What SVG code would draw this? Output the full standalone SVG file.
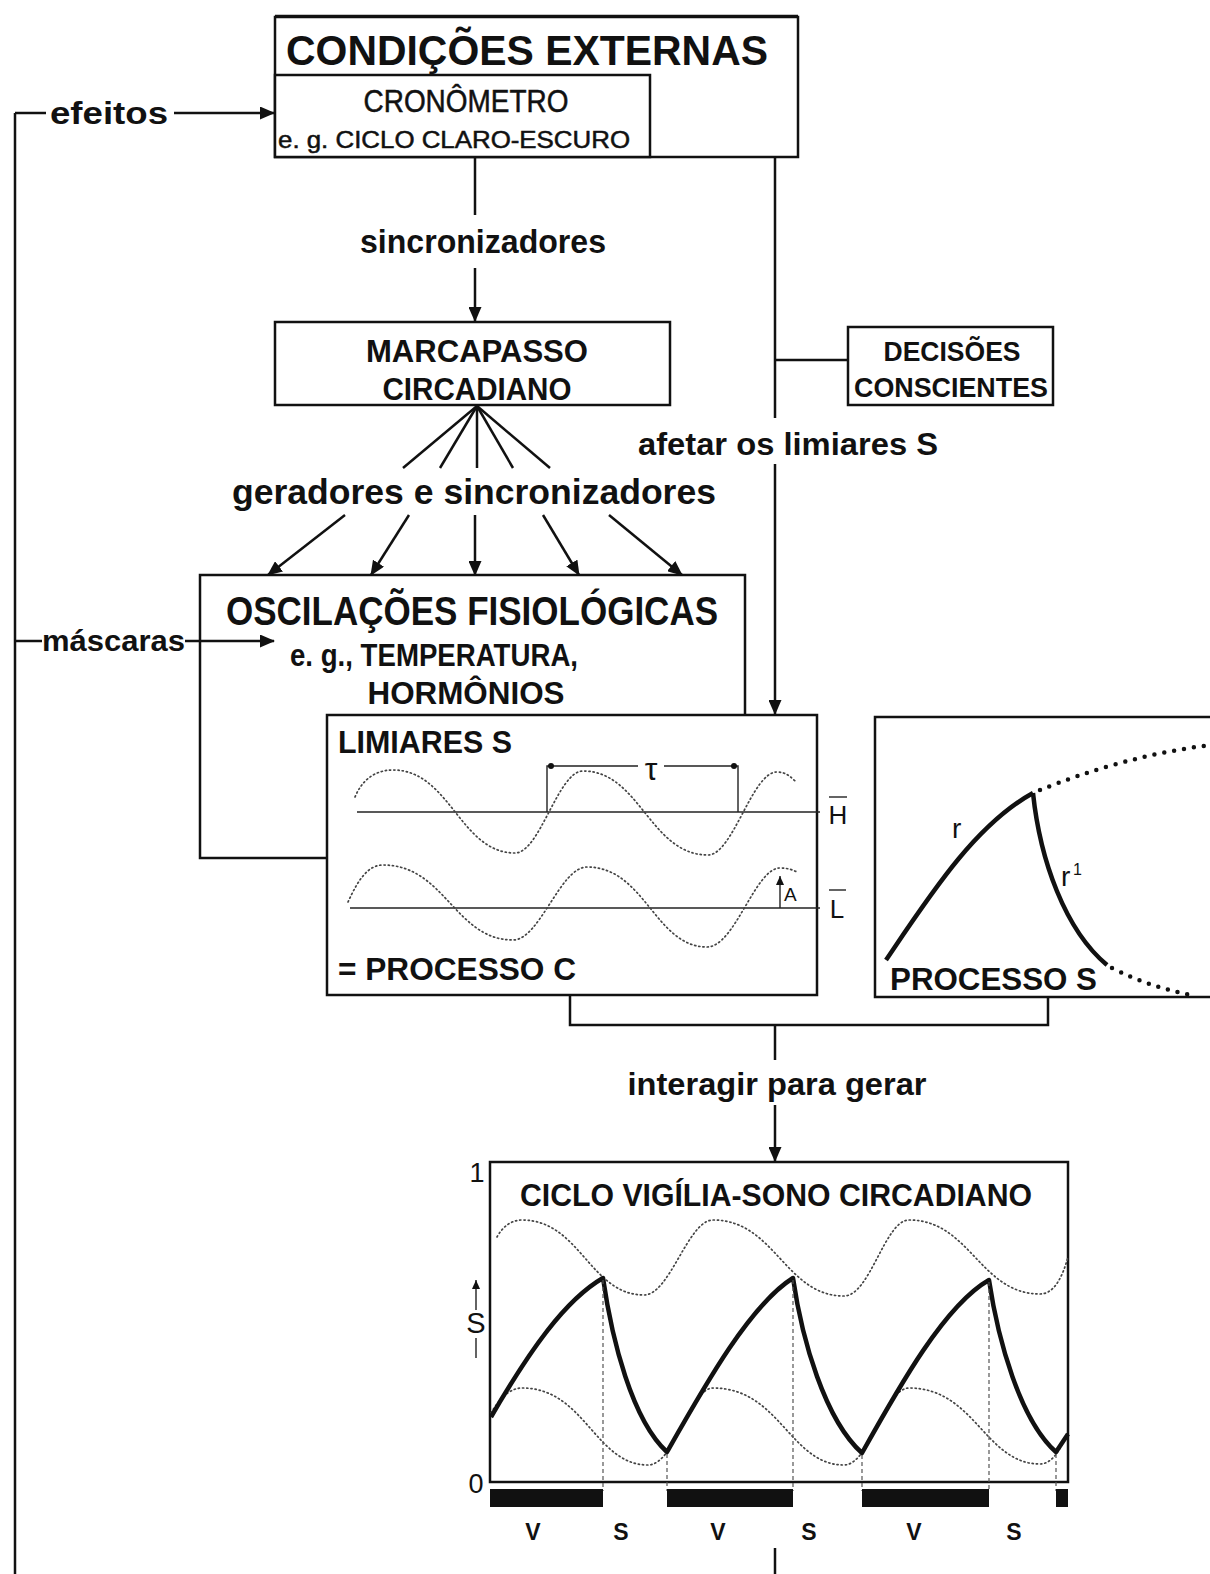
<svg xmlns="http://www.w3.org/2000/svg" width="1210" height="1574" viewBox="0 0 1210 1574">
<style>
text{font-family:"Liberation Sans",Arial,sans-serif;fill:#111}
.b{font-weight:bold}
.m{stroke:#111;stroke-width:0.5}
.box{fill:#fff;stroke:#111;stroke-width:2.5}
.ln{fill:none;stroke:#111;stroke-width:2.5}
.thin{fill:none;stroke:#222;stroke-width:1.4}
.dot{fill:none;stroke:#444;stroke-width:1.7;stroke-dasharray:1.2 3;stroke-linecap:round}
.bigdot{fill:none;stroke:#111;stroke-width:4.5;stroke-dasharray:0 10;stroke-linecap:round}
.thick{fill:none;stroke:#111;stroke-width:4.5;stroke-linejoin:round}
.vd{fill:none;stroke:#555;stroke-width:1.2;stroke-dasharray:4 3}
</style>
<defs>
<marker id="ah" markerUnits="userSpaceOnUse" markerWidth="15" markerHeight="13" refX="14" refY="6.5" orient="auto">
<path d="M0,0 L15,6.5 L0,13 z" fill="#111"/>
</marker>
<marker id="sa" markerUnits="userSpaceOnUse" markerWidth="10" markerHeight="10" refX="9" refY="4" orient="auto">
<path d="M0,0 L9,4 L0,8 z" fill="#111"/>
</marker>
</defs>

<g id="condicoes-externas">
<rect class="box" x="275" y="17" width="523" height="140"/>
<path class="ln" d="M275,16 H798" stroke-width="3.5"/>
<text class="b" x="527" y="65" font-size="43" text-anchor="middle" textLength="482" lengthAdjust="spacingAndGlyphs">CONDIÇÕES EXTERNAS</text>
</g>

<g id="cronometro">
<rect class="box" x="275" y="75" width="375" height="82"/>
<text class="m" x="466" y="112" font-size="31" text-anchor="middle" textLength="205" lengthAdjust="spacingAndGlyphs">CRONÔMETRO</text>
<text class="m" x="278" y="148" font-size="23" textLength="352" lengthAdjust="spacingAndGlyphs">e. g. CICLO CLARO-ESCURO</text>
</g>

<g id="marcapasso">
<rect class="box" x="275" y="322" width="395" height="83"/>
<text class="b" x="477" y="362" font-size="31" text-anchor="middle" textLength="222" lengthAdjust="spacingAndGlyphs">MARCAPASSO</text>
<text class="b" x="477" y="400" font-size="31" text-anchor="middle" textLength="189" lengthAdjust="spacingAndGlyphs">CIRCADIANO</text>
</g>

<g id="decisoes">
<rect class="box" x="848" y="327" width="205" height="78"/>
<text class="b" x="952" y="361" font-size="27" text-anchor="middle" textLength="137" lengthAdjust="spacingAndGlyphs">DECISÕES</text>
<text class="b" x="951" y="397" font-size="27" text-anchor="middle" textLength="194" lengthAdjust="spacingAndGlyphs">CONSCIENTES</text>
</g>

<g id="oscilacoes">
<rect class="box" x="200" y="575" width="545" height="283"/>
<text class="b" x="472" y="625" font-size="40" text-anchor="middle" textLength="492" lengthAdjust="spacingAndGlyphs">OSCILAÇÕES FISIOLÓGICAS</text>
<text class="b" x="290" y="666" font-size="32" textLength="288" lengthAdjust="spacingAndGlyphs">e. g., TEMPERATURA,</text>
<text class="b" x="466" y="704" font-size="32" text-anchor="middle" textLength="197" lengthAdjust="spacingAndGlyphs">HORMÔNIOS</text>
</g>

<g id="limiares">
<rect class="box" x="327" y="715" width="490" height="280"/>
<text class="b" x="338" y="753" font-size="31" textLength="174" lengthAdjust="spacingAndGlyphs">LIMIARES S</text>
<path class="thin" d="M357,812 H820"/>
<path class="thin" d="M350,908 H820" stroke-width="1.1"/>
<path class="dot" d="M355,797 C362,780 375,770 393,770 C450,770 460,853 515,853 C540,853 558,771 583,771 C640,771 650,855 708,855 C733,855 752,772 777,772 C785,772 790,776 795,781"/>
<path class="dot" d="M348,902 C358,880 368,865 383,865 C445,865 455,940 513,940 C540,940 560,867 587,867 C645,867 655,947 707,947 C735,947 755,868 780,868 C788,868 793,870 797,872"/>
<path class="thin" d="M547,812 V766 H638"/>
<path class="thin" d="M664,766 H738 V812"/>
<circle cx="551" cy="766" r="3" fill="#111"/>
<circle cx="734" cy="766" r="3" fill="#111"/>
<text x="651" y="780" font-size="32" text-anchor="middle" font-family="Liberation Serif, serif">τ</text>
<path class="thin" d="M780,908 V876" marker-end="url(#sa)"/>
<text x="784" y="901" font-size="19">A</text>
<text x="838" y="824" font-size="26" text-anchor="middle">H</text>
<path class="thin" d="M829,797 H847"/>
<text x="837" y="918" font-size="26" text-anchor="middle">L</text>
<path class="thin" d="M829,890 H846"/>
<text class="b" x="338" y="980" font-size="31" textLength="238" lengthAdjust="spacingAndGlyphs">= PROCESSO C</text>
</g>

<g id="processo-s">
<rect class="box" x="875" y="717" width="345" height="280"/>
<path class="thick" d="M886,960 C930,895 975,825 1033,793"/>
<path class="thick" d="M1033,793 C1040,860 1065,930 1107,965" stroke-width="4"/>
<path class="bigdot" d="M1040,790 C1090,770 1150,752 1212,745"/>
<path class="bigdot" d="M1112,968 C1140,982 1165,990 1195,996"/>
<text x="952" y="838" font-size="28">r</text>
<text x="1061" y="886" font-size="28">r</text>
<text x="1073" y="875" font-size="16">1</text>
<text class="b" x="890" y="990" font-size="31" textLength="207" lengthAdjust="spacingAndGlyphs">PROCESSO S</text>
</g>

<g id="ciclo">
<rect class="box" x="490" y="1162" width="578" height="320"/>
<text class="b" x="776" y="1206" font-size="31" text-anchor="middle" textLength="512" lengthAdjust="spacingAndGlyphs">CICLO VIGÍLIA-SONO CIRCADIANO</text>
<text x="477" y="1182" font-size="27" text-anchor="middle">1</text>
<text x="476" y="1493" font-size="27" text-anchor="middle">0</text>
<path class="thin" d="M476,1310 V1280" marker-end="url(#sa)"/>
<text x="476" y="1333" font-size="29" text-anchor="middle">S</text>
<path class="thin" d="M476,1338 V1358"/>
<path class="dot" d="M497,1237 C503,1226 512,1220 522,1220 C580,1220 590,1295 644,1295 C670,1295 688,1220 713,1220 C775,1220 785,1296 844,1296 C870,1296 885,1220 909,1220 C970,1220 980,1294 1040,1294 C1055,1294 1063,1275 1068,1257"/>
<path class="dot" d="M491,1413 C500,1398 510,1388 522,1388 C585,1388 595,1465 648,1465 C675,1465 690,1388 713,1388 C780,1388 790,1465 844,1465 C870,1465 885,1388 909,1388 C975,1388 985,1464 1040,1464 C1052,1464 1060,1450 1066,1436"/>
<path class="thick" d="M491,1417 C530,1350 565,1300 603,1278 C612,1340 632,1420 667,1452 C705,1385 750,1305 793,1278 C802,1340 825,1420 862,1453 C900,1385 945,1305 989,1280 C998,1340 1020,1420 1056,1452 L1068,1434"/>
<g class="vd">
<path d="M603,1280 V1491"/>
<path d="M667,1454 V1491"/>
<path d="M793,1280 V1491"/>
<path d="M862,1455 V1491"/>
<path d="M989,1282 V1491"/>
<path d="M1056,1454 V1491"/>
</g>
<g fill="#111">
<rect x="490" y="1489" width="113" height="18"/>
<rect x="667" y="1489" width="126" height="18"/>
<rect x="862" y="1489" width="127" height="18"/>
<rect x="1056" y="1489" width="12" height="18"/>
</g>
<g class="b" font-size="23" text-anchor="middle">
<text x="533" y="1540">V</text>
<text x="621" y="1540">S</text>
<text x="718" y="1540">V</text>
<text x="809" y="1540">S</text>
<text x="914" y="1540">V</text>
<text x="1014" y="1540">S</text>
</g>
</g>

<g id="connectors">
<path class="ln" d="M15,113 V1574"/>
<path class="ln" d="M15,113 H46"/>
<path class="ln" d="M174,113 H274" marker-end="url(#ah)"/>
<path class="ln" d="M15,641 H42"/>
<path class="ln" d="M185,641 H274" marker-end="url(#ah)"/>
<path class="ln" d="M475,157 V215"/>
<path class="ln" d="M475,268 V321" marker-end="url(#ah)"/>
<path class="ln" d="M775,157 V418"/>
<path class="ln" d="M775,360 H848"/>
<path class="ln" d="M775,464 V714" marker-end="url(#ah)"/>
<g class="ln" stroke-width="2.2">
<path d="M477,406 L403,468"/>
<path d="M477,406 L440,468"/>
<path d="M477,406 L477,468"/>
<path d="M477,406 L513,468"/>
<path d="M477,406 L550,468"/>
</g>
<path class="ln" d="M345,515 L268,575" marker-end="url(#ah)"/>
<path class="ln" d="M409,515 L371,575" marker-end="url(#ah)"/>
<path class="ln" d="M475,515 L475,575" marker-end="url(#ah)"/>
<path class="ln" d="M543,515 L579,575" marker-end="url(#ah)"/>
<path class="ln" d="M609,515 L682,575" marker-end="url(#ah)"/>
<path class="ln" d="M570,995 V1025 H1048 V998"/>
<path class="ln" d="M775,1025 V1060"/>
<path class="ln" d="M775,1105 V1161" marker-end="url(#ah)"/>
<path class="ln" d="M775,1548 V1574"/>
</g>

<text class="b" x="50" y="124" font-size="32" textLength="118" lengthAdjust="spacingAndGlyphs">efeitos</text>
<text class="b" x="483" y="253" font-size="33" text-anchor="middle" textLength="246" lengthAdjust="spacingAndGlyphs">sincronizadores</text>
<text class="b" x="788" y="455" font-size="32" text-anchor="middle" textLength="300" lengthAdjust="spacingAndGlyphs">afetar os limiares S</text>
<text class="b" x="474" y="504" font-size="35" text-anchor="middle" textLength="484" lengthAdjust="spacingAndGlyphs">geradores e sincronizadores</text>
<text class="b" x="42" y="651" font-size="30" textLength="143" lengthAdjust="spacingAndGlyphs">máscaras</text>
<text class="b" x="777" y="1095" font-size="32" text-anchor="middle" textLength="299" lengthAdjust="spacingAndGlyphs">interagir para gerar</text>
</svg>
